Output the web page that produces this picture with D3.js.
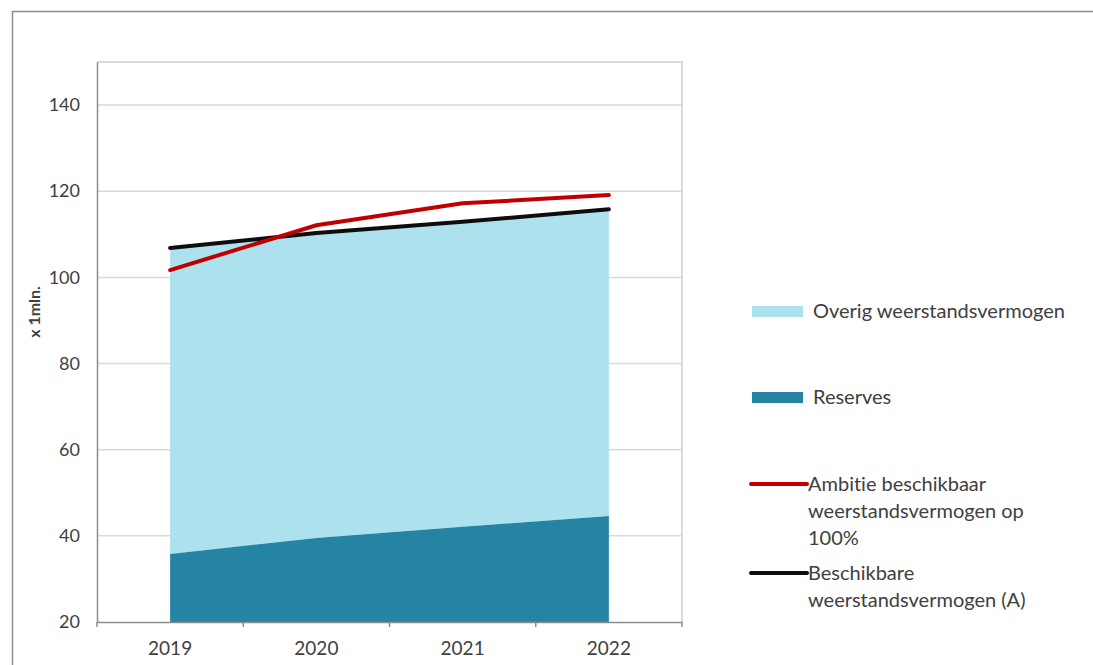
<!DOCTYPE html>
<html>
<head>
<meta charset="utf-8">
<script src="https://d3js.org/d3.v7.min.js"></script>
<style>
  body { margin: 0; background: #fff; }
  text { font-family: Lato, "Open Sans", sans-serif; fill: #404040; font-variant-ligatures: none; }
</style>
</head>
<body>
<div id="chart"></div>
<script>
// values (x 1 mln.)
var years = ["2019", "2020", "2021", "2022"];
var reserves = [35.8, 39.5, 42.1, 44.6];
var beschikbaar = [106.8, 110.3, 112.9, 115.8];   // black line, also top of light area
var ambitie = [101.7, 112.1, 117.2, 119.1];       // red line
var yTicks = [20, 40, 60, 80, 100, 120, 140];

var W = 1093, H = 665;
var margin = {top: 62, left: 97, right: W - 682, bottom: H - 622};
var width = W - margin.left - margin.right,
    height = H - margin.top - margin.bottom;

var svg = d3.select("#chart").append("svg")
    .attr("width", W)
    .attr("height", H);

// outer frame (runs off the right and bottom edge)
svg.append("rect")
  .attr("x", 12.5).attr("y", 11.5)
  .attr("width", W).attr("height", H)
  .attr("fill", "none")
  .attr("stroke", "#8c8c8c")
  .attr("stroke-width", 1.5);

var g = svg.append("g")
    .attr("transform", "translate(" + margin.left + "," + margin.top + ")");

var x = d3.scaleBand().domain(years).range([0, width]);
var y = d3.scaleLinear().domain([20, 150]).range([height, 0]);
var cx = function(d, i) { return x(years[i]) + x.bandwidth() / 2; };

// gridlines
g.selectAll(".grid").data(yTicks.slice(1)).enter().append("line")
  .attr("x1", 0).attr("x2", width)
  .attr("y1", function(d) { return y(d); })
  .attr("y2", function(d) { return y(d); })
  .attr("stroke", "#d9d9d9")
  .attr("stroke-width", 1.5);

// stacked areas
var overig = d3.area()
  .x(cx)
  .y0(function(d, i) { return y(reserves[i]); })
  .y1(function(d) { return y(d); });
g.append("path").datum(beschikbaar)
  .attr("d", overig)
  .attr("fill", "#ade1ee");

var res = d3.area()
  .x(cx)
  .y0(height)
  .y1(function(d) { return y(d); });
g.append("path").datum(reserves)
  .attr("d", res)
  .attr("fill", "#2584a4");

// lines
var line = d3.line().x(cx).y(function(d) { return y(d); });
g.append("path").datum(beschikbaar)
  .attr("d", line)
  .attr("fill", "none")
  .attr("stroke", "#0d0d0d")
  .attr("stroke-width", 4)
  .attr("stroke-linecap", "round");
g.append("path").datum(ambitie)
  .attr("d", line)
  .attr("fill", "none")
  .attr("stroke", "#c00000")
  .attr("stroke-width", 4)
  .attr("stroke-linecap", "round");

// box top and right
g.append("path")
  .attr("d", "M0,0H" + width + "V" + height)
  .attr("fill", "none")
  .attr("stroke", "#d0d0d0")
  .attr("stroke-width", 1.5);

// y axis
var yAxis = g.append("g")
  .call(d3.axisLeft(y).tickValues(yTicks).tickSize(0).tickPadding(17));
yAxis.select(".domain").attr("stroke", "#8c8c8c").attr("stroke-width", 1.5);
yAxis.selectAll("text").style("font-size", "18px").attr("fill", "#404040");

// x axis, ticks on band edges
var xAxis = g.append("g")
  .attr("transform", "translate(0," + height + ")")
  .call(d3.axisBottom(x).tickSize(0).tickPadding(20));
xAxis.select(".domain").attr("stroke", "#8c8c8c").attr("stroke-width", 1.5);
xAxis.selectAll("text").style("font-size", "19px").attr("fill", "#404040");
xAxis.selectAll(".edge").data(years.concat(["end"])).enter().append("line")
  .attr("x1", function(d, i) { return x.step() * i; })
  .attr("x2", function(d, i) { return x.step() * i; })
  .attr("y1", 0).attr("y2", 5)
  .attr("stroke", "#8c8c8c")
  .attr("stroke-width", 1.5);

// y axis title
svg.append("text")
  .attr("transform", "translate(40,312) rotate(-90)")
  .attr("text-anchor", "middle")
  .style("font-size", "16px")
  .style("font-weight", "bold")
  .attr("fill", "#262626")
  .text("x 1mln.");

// legend
var legend = [
  {label: ["Overig weerstandsvermogen"], color: "#ade1ee", type: "box", y: 311},
  {label: ["Reserves"], color: "#2584a4", type: "box", y: 397},
  {label: ["Ambitie beschikbaar", "weerstandsvermogen op", "100%"], color: "#c00000", type: "line", y: 484},
  {label: ["Beschikbare", "weerstandsvermogen (A)"], color: "#0d0d0d", type: "line", y: 573}
];
var lg = svg.selectAll(".leg").data(legend).enter().append("g")
  .attr("transform", function(d) { return "translate(0," + d.y + ")"; });
lg.filter(function(d) { return d.type === "box"; }).append("rect")
  .attr("x", 752).attr("y", -5).attr("width", 51).attr("height", 11)
  .attr("fill", function(d) { return d.color; });
lg.filter(function(d) { return d.type === "line"; }).append("line")
  .attr("x1", 751).attr("x2", 807).attr("y1", 0).attr("y2", 0)
  .attr("stroke", function(d) { return d.color; })
  .attr("stroke-width", 4)
  .attr("stroke-linecap", "round");
lg.append("text")
  .attr("x", function(d) { return d.type === "box" ? 813 : 808; })
  .attr("y", 7)
  .style("font-size", "20px")
  .selectAll("tspan").data(function(d) { return d.label; }).enter().append("tspan")
    .attr("x", function() { return d3.select(this.parentNode).attr("x"); })
    .attr("dy", function(d, i) { return i ? 27 : 0; })
    .text(function(d) { return d; });
</script>
</body>
</html>
